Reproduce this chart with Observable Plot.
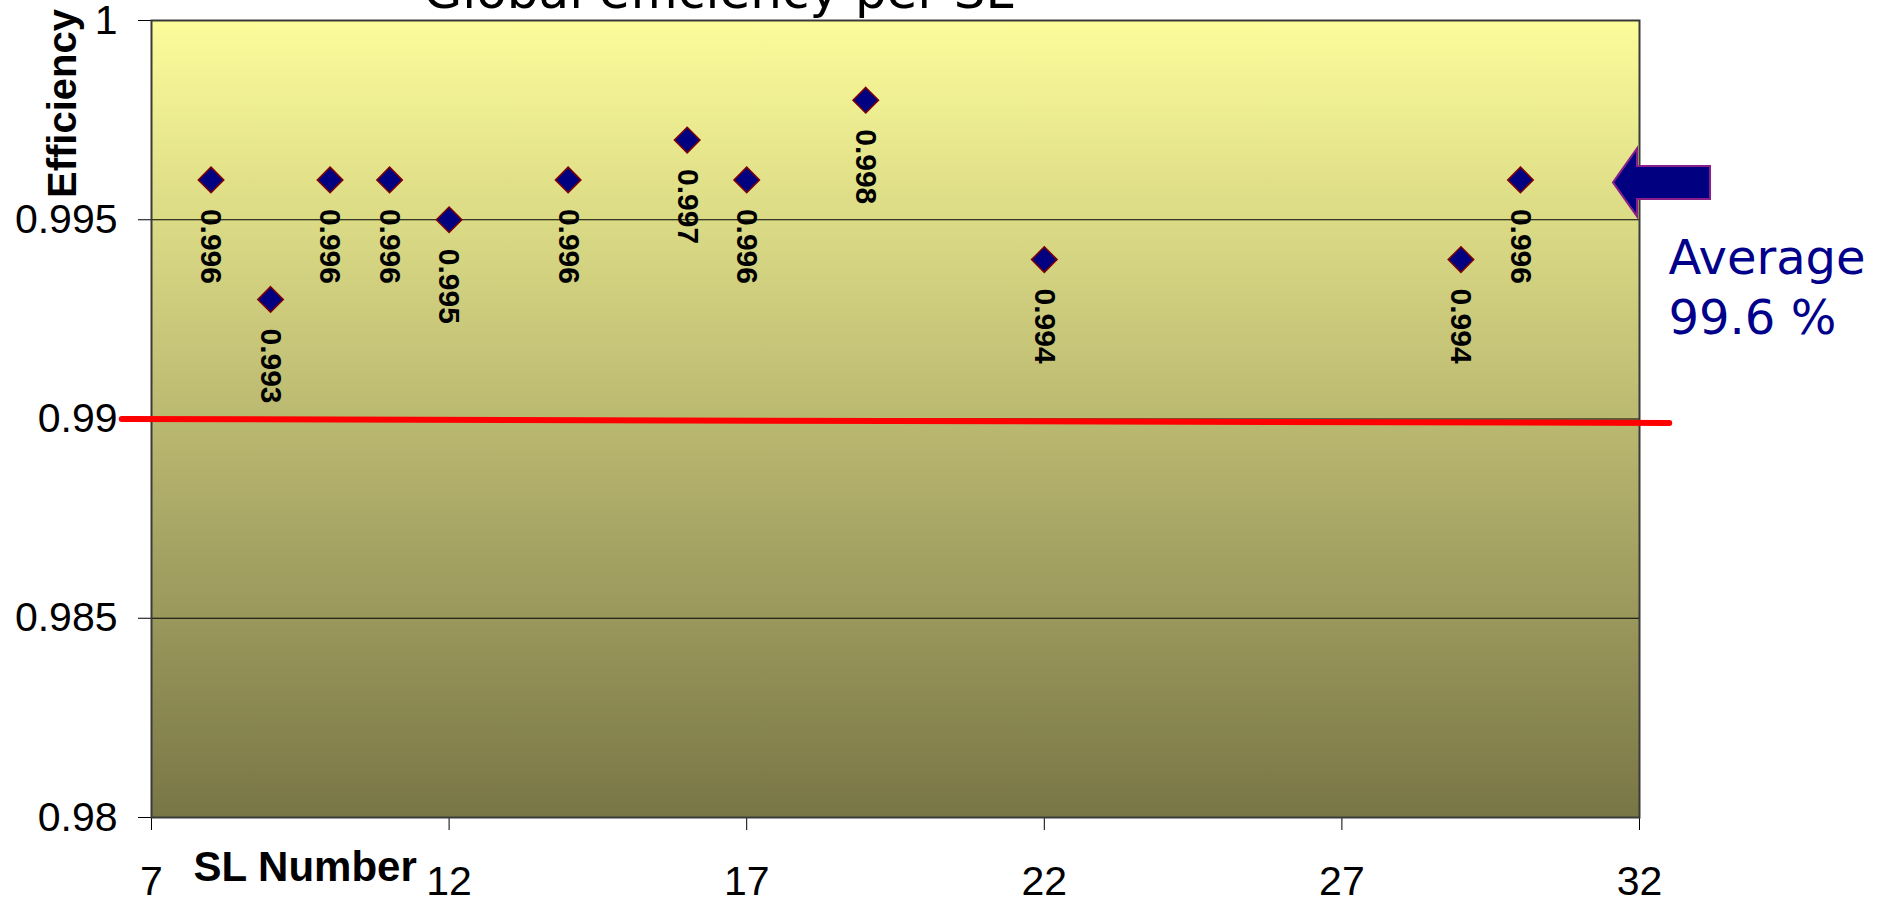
<!DOCTYPE html>
<html>
<head>
<meta charset="utf-8">
<script src="https://cdn.jsdelivr.net/npm/d3@7"></script>
<script src="https://cdn.jsdelivr.net/npm/@observablehq/plot@0.6"></script>
<style>
  html, body { margin: 0; padding: 0; background: #fff; overflow: hidden; }
  #chart svg { display: block; }
</style>
</head>
<body>
<div id="chart"></div>
<script>
// Global efficiency per SL number
const slNumbers  = [8, 9, 10, 11, 12, 14, 16, 17, 19, 22, 29, 30];
const efficiency = [0.996, 0.993, 0.996, 0.996, 0.995, 0.996, 0.997, 0.996, 0.998, 0.994, 0.994, 0.996];

// Axis ticks and reference values
const xTicks = [7, 12, 17, 22, 27, 32];
const yTicks = [0.98, 0.985, 0.99, 0.995, 1];
const gridLevels = [0.985, 0.99, 0.995];

// Hand-drawn 99 % target line (slightly sagging to the right)
const targetX = [6.5, 32.5];
const targetY = [0.99, 0.9899];

const averageEfficiency = 0.996;
const titleText = "Global efficiency per SL";
const xLabel = "SL Number";
const yLabel = "Efficiency";

const points = slNumbers.map((sl, i) => ({sl, eff: efficiency[i]}));
const target = targetX.map((x, i) => ({x, y: targetY[i]}));

const handFont = "'DejaVu Sans', sans-serif";
const arial = "Arial, 'Liberation Sans', sans-serif";

// Vertical yellow-to-olive gradient filling the plot area
function plotBackground(index, scales, values, dims) {
  const g = d3.create("svg:g");
  const grad = g.append("defs").append("linearGradient")
    .attr("id", "plot-bg").attr("x1", 0).attr("y1", 0).attr("x2", 0).attr("y2", 1);
  grad.append("stop").attr("offset", "0%").attr("stop-color", "#fcfc9b");
  grad.append("stop").attr("offset", "100%").attr("stop-color", "#797646");
  g.append("rect")
    .attr("x", dims.marginLeft)
    .attr("y", dims.marginTop)
    .attr("width", dims.width - dims.marginLeft - dims.marginRight)
    .attr("height", dims.height - dims.marginTop - dims.marginBottom)
    .attr("fill", "url(#plot-bg)");
  return g.node();
}

// Block arrow pointing at the average level on the right edge
function averageArrow(index, {x, y}) {
  const xr = x(xTicks[xTicks.length - 1]);
  const ya = y(averageEfficiency) + 3;
  const shape = [
    [-26, 0], [-2, -34], [-2, -16.5], [71, -16.5],
    [71, 16.5], [-2, 16.5], [-2, 34]
  ];
  const path = "M" + shape.map(([dx, dy]) => `${xr + dx},${ya + dy}`).join("L") + "Z";
  const g = d3.create("svg:g");
  g.append("path")
    .attr("d", path)
    .attr("fill", "#000080")
    .attr("stroke", "#8a1f8a")
    .attr("stroke-width", 2)
    .attr("stroke-linejoin", "miter");
  return g.node();
}

const chart = Plot.plot({
  width: 1895,
  height: 901,
  marginLeft: 151,
  marginRight: 256,
  marginTop: 20,
  marginBottom: 84,
  style: {
    fontFamily: arial,
    fontSize: "41px",
    color: "#000",
    background: "#fff",
    overflow: "visible"
  },
  x: {
    domain: [7, 32],
    ticks: xTicks,
    tickSize: 13,
    tickPadding: 35,
    tickFormat: d => String(d),
    label: null
  },
  y: {
    domain: [0.98, 1],
    ticks: yTicks,
    tickSize: 13,
    tickPadding: 21,
    tickFormat: d => String(d),
    label: null
  },
  marks: [
    plotBackground,
    Plot.ruleY(gridLevels, {stroke: "#000", strokeWidth: 1.2}),
    Plot.frame({stroke: "#3a3a3a", strokeWidth: 2}),
    Plot.line(target, {
      x: "x", y: "y",
      stroke: "#ff0000", strokeWidth: 6, strokeLinecap: "round"
    }),
    Plot.dot(points, {
      x: "sl", y: "eff",
      symbol: "diamond2", r: 11.5,
      fill: "#000080", stroke: "#800000", strokeWidth: 1.5
    }),
    Plot.text(points, {
      x: "sl", y: "eff",
      text: d => String(d.eff),
      rotate: 90,
      textAnchor: "start",
      lineAnchor: "middle",
      dy: 29,
      fontFamily: arial,
      fontWeight: "bold",
      fontSize: 30,
      fill: "#000"
    }),
    averageArrow,
    Plot.text([`Average\n${(averageEfficiency * 100).toFixed(1)} %`], {
      x: () => xTicks[xTicks.length - 1],
      y: () => averageEfficiency,
      textAnchor: "start",
      lineAnchor: "top",
      lineHeight: 1.26,
      dx: 29,
      dy: 51,
      fontFamily: handFont,
      fontSize: 48,
      fill: "#00008b"
    }),
    Plot.text([titleText], {
      frameAnchor: "top",
      textAnchor: "middle",
      lineAnchor: "bottom",
      dx: -177,
      dy: -13,
      fontFamily: handFont,
      fontSize: 50,
      fill: "#000"
    }),
    Plot.text([yLabel], {
      frameAnchor: "top-left",
      rotate: -90,
      textAnchor: "middle",
      lineAnchor: "middle",
      dx: -88,
      dy: 83,
      fontFamily: arial,
      fontWeight: "bold",
      fontSize: 40,
      fill: "#000"
    }),
    Plot.text([xLabel], {
      frameAnchor: "bottom-left",
      textAnchor: "start",
      lineAnchor: "bottom",
      dx: 42,
      dy: 63,
      fontFamily: arial,
      fontWeight: "bold",
      fontSize: 42,
      fill: "#000"
    })
  ]
});

document.getElementById("chart").append(chart);
</script>
</body>
</html>
